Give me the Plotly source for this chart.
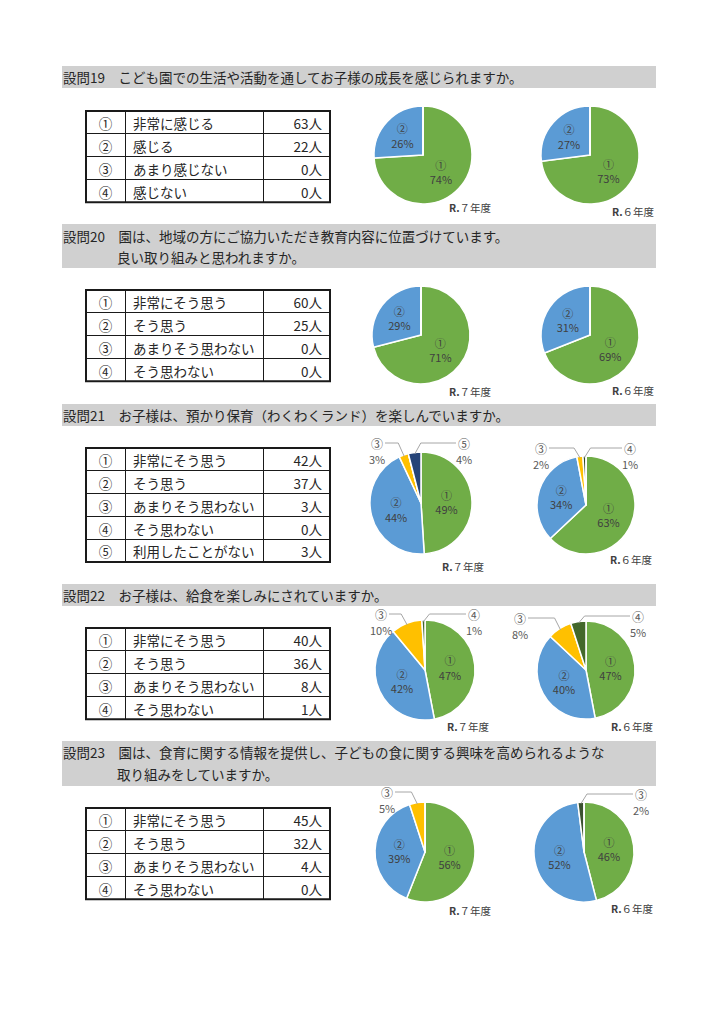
import math
import plotly.graph_objects as go

# page is 724x1024 with an 8px body margin; figure fills the remaining area
OFF = 8
W, H = 724 - 2 * OFF, 1024 - 2 * OFF
FONT = "Noto Sans CJK JP"

# ---------------- data ----------------
q_ids = ["設問19", "設問20", "設問21", "設問22", "設問23"]
q_line1 = [
    "こども園での生活や活動を通してお子様の成長を感じられますか。",
    "園は、地域の方にご協力いただき教育内容に位置づけています。",
    "お子様は、預かり保育（わくわくランド）を楽しんでいますか。",
    "お子様は、給食を楽しみにされていますか。",
    "園は、食育に関する情報を提供し、子どもの食に関する興味を高められるような",
]
q_line2 = ["", "良い取り組みと思われますか。", "", "", "取り組みをしていますか。"]

marks = ["①", "②", "③", "④", "⑤"]
opt_q19 = ["非常に感じる", "感じる", "あまり感じない", "感じない"]
opt_agree = ["非常にそう思う", "そう思う", "あまりそう思わない", "そう思わない"]
opt_q21 = ["非常にそう思う", "そう思う", "あまりそう思わない", "そう思わない", "利用したことがない"]

counts_q19 = [63, 22, 0, 0]
counts_q20 = [60, 25, 0, 0]
counts_q21 = [42, 37, 3, 0, 3]
counts_q22 = [40, 36, 8, 1]
counts_q23 = [45, 32, 4, 0]

pct_r7_q19 = [74, 26, 0, 0]
pct_r6_q19 = [73, 27, 0, 0]
pct_r7_q20 = [71, 29, 0, 0]
pct_r6_q20 = [69, 31, 0, 0]
pct_r7_q21 = [49, 44, 3, 0, 4]
pct_r6_q21 = [63, 34, 2, 1, 0]
pct_r7_q22 = [47, 42, 10, 1]
pct_r6_q22 = [47, 40, 8, 5]
pct_r7_q23 = [56, 39, 5, 0]
pct_r6_q23 = [46, 52, 2, 0]

year_labels = ["R.", "７年度", "６年度"]

options = [opt_q19, opt_agree, opt_q21, opt_agree, opt_agree]
counts = [counts_q19, counts_q20, counts_q21, counts_q22, counts_q23]
pcts = [(pct_r7_q19, pct_r6_q19), (pct_r7_q20, pct_r6_q20), (pct_r7_q21, pct_r6_q21),
        (pct_r7_q22, pct_r6_q22), (pct_r7_q23, pct_r6_q23)]

# ---------------- styles / layout ----------------
GREEN, BLUE, GOLD, DKGREEN, DKBLUE = "#70AD47", "#5B9BD5", "#FFC000", "#43682B", "#264478"
BASE = [GREEN, BLUE, GOLD, DKGREEN, DKBLUE]
pie_colors = [
    (BASE, BASE),
    (BASE, BASE),
    (BASE, [GREEN, BLUE, GOLD, "#2F4A22", DKBLUE]),
    (BASE, BASE),
    (BASE, [GREEN, BLUE, "#3B5230", DKGREEN, DKBLUE]),
]
header_box = [(66, 88), (224, 268), (404, 426), (584, 606), (741, 786)]
header_text_y = [(77, None), (236, 257), (415, None), (595, None), (752, 774)]
table_top = [111, 290, 448, 628, 808]
ROW_H = 22.8
COL_X = [86, 125, 263, 330]
pie_geo = [  # (cx, cy, r) for R7 and R6
    ((423, 155, 49), (590, 155, 49)),
    ((421, 335, 49), (590, 335, 49)),
    ((421, 503, 51), (586, 505, 49)),
    ((425, 670, 50), (586, 670, 49)),
    ((425, 852, 50), (584, 852, 50)),
]
year_pos = [((470, 208), (633, 212)), ((470, 391), (633, 390)), ((463, 566), (631, 559)),
            ((468, 726), (632, 726)), ((470, 910), (632, 908))]
# outside label positions for small slices: (question, year, slice) -> (x, y)
out_lbl = {
    (2, 0, 2): (377, 443), (2, 0, 4): (464, 443),
    (2, 1, 2): (541, 448), (2, 1, 3): (630, 448),
    (3, 0, 2): (381, 614), (3, 0, 3): (474, 614),
    (3, 1, 2): (520, 618), (3, 1, 3): (638, 616),
    (4, 0, 2): (387, 792), (4, 1, 2): (641, 794),
}
SMALL = 15
TXT = "#262626"


def fx(x):
    return (x - OFF) / W


def fy(y):
    return 1 - (y - OFF) / H


fig = go.Figure()
shapes = []
ann = []

for q in range(5):
    # header bar
    y0, y1 = header_box[q]
    shapes.append(dict(type="rect", xref="paper", yref="paper", x0=fx(62), x1=fx(656),
                       y0=fy(y1), y1=fy(y0), fillcolor="#D0D0D0", line=dict(width=0), layer="below"))
    ty1, ty2 = header_text_y[q]
    ann.append(dict(x=fx(61), y=fy(ty1), xref="paper", yref="paper", xanchor="left", yanchor="middle",
                    text=q_ids[q] + "　" + q_line1[q], showarrow=False,
                    font=dict(family=FONT, size=13.5, color=TXT)))
    if q_line2[q]:
        ann.append(dict(x=fx(115), y=fy(ty2), xref="paper", yref="paper", xanchor="left", yanchor="middle",
                        text=q_line2[q], showarrow=False,
                        font=dict(family=FONT, size=13.5, color=TXT)))

    # table (first row is used as the table header so no blank row appears)
    n = len(options[q])
    top = table_top[q]
    bottom = top + n * ROW_H
    col_vals = [marks[:n], options[q], [f"{c}人" for c in counts[q]]]
    cell_font = dict(family=FONT, size=13.5, color=TXT)
    cell_line = dict(color="#1a1a1a", width=1)
    fig.add_trace(go.Table(
        domain=dict(x=[fx(COL_X[0]), fx(COL_X[3])], y=[fy(bottom + 12), fy(top)]),
        columnwidth=[COL_X[1] - COL_X[0], COL_X[2] - COL_X[1], COL_X[3] - COL_X[2]],
        header=dict(values=[c[0] for c in col_vals], height=ROW_H,
                    align=["center", "left", "right"], line=cell_line,
                    fill=dict(color="rgba(0,0,0,0)"), font=cell_font),
        cells=dict(values=[c[1:] for c in col_vals],
                   align=["center", "left", "right"], height=ROW_H,
                   line=cell_line, fill=dict(color="rgba(0,0,0,0)"), font=cell_font),
    ))
    shapes.append(dict(type="rect", xref="paper", yref="paper", x0=fx(COL_X[0]), x1=fx(COL_X[3]),
                       y0=fy(bottom), y1=fy(top), line=dict(color="#1a1a1a", width=2)))

    # pies
    for yr in range(2):
        vals = pcts[q][yr]
        cx, cy, r = pie_geo[q][yr]
        total = sum(vals)
        texts, tpos = [], []
        for i, v in enumerate(vals):
            if v >= SMALL:
                texts.append(f"{marks[i]}<br>{v}%")
                tpos.append("inside")
            else:
                texts.append("")
                tpos.append("none")
        fig.add_trace(go.Pie(
            values=vals, labels=marks[:len(vals)], text=texts, textinfo="text",
            textposition=tpos, insidetextorientation="horizontal",
            insidetextfont=dict(family=FONT, size=11, color="#404040"),
            marker=dict(colors=pie_colors[q][yr][:len(vals)], line=dict(color="white", width=1.5)),
            sort=False, direction="clockwise", rotation=0, showlegend=False,
            hoverinfo="skip",
            domain=dict(x=[fx(cx - r), fx(cx + r)], y=[fy(cy + r), fy(cy - r)]),
        ))
        # outside labels with leader lines
        cum = 0
        for i, v in enumerate(vals):
            if 0 < v < SMALL:
                mid = (cum + v / 2) / total * 2 * math.pi
                px_ = cx + r * 0.97 * math.sin(mid)
                py_ = cy - r * 0.97 * math.cos(mid)
                lx, ly = out_lbl[(q, yr, i)]
                sgn = 1 if lx > px_ else -1
                start_x = lx - sgn * 8
                elbow_x = px_ + sgn * 6
                shapes.append(dict(type="path", xref="paper", yref="paper",
                                   path=f"M {fx(start_x)} {fy(ly)} L {fx(elbow_x)} {fy(ly)} L {fx(px_)} {fy(py_)}",
                                   line=dict(color="#A6A6A6", width=1)))
                ann.append(dict(x=fx(lx), y=fy(ly), xref="paper", yref="paper", text=marks[i],
                                showarrow=False, xanchor="center", yanchor="middle", borderpad=0,
                                font=dict(family=FONT, size=12, color="#595959")))
                ann.append(dict(x=fx(lx), y=fy(ly + 16), xref="paper", yref="paper", text=f"{v}%",
                                showarrow=False, xanchor="center", yanchor="middle",
                                font=dict(family=FONT, size=11, color="#595959")))
            cum += v
        # year label
        yx, yy = year_pos[q][yr]
        ann.append(dict(x=fx(yx), y=fy(yy), xref="paper", yref="paper",
                        text=f"<b>{year_labels[0]}</b>{year_labels[1 + yr]}",
                        showarrow=False, xanchor="center", yanchor="middle",
                        font=dict(family=FONT, size=10.5, color="#404040")))

fig.update_layout(width=W, height=H, margin=dict(l=0, r=0, t=0, b=0),
                  paper_bgcolor="white", plot_bgcolor="white",
                  shapes=shapes, annotations=ann, showlegend=False)
fig.write_html("out.html")
